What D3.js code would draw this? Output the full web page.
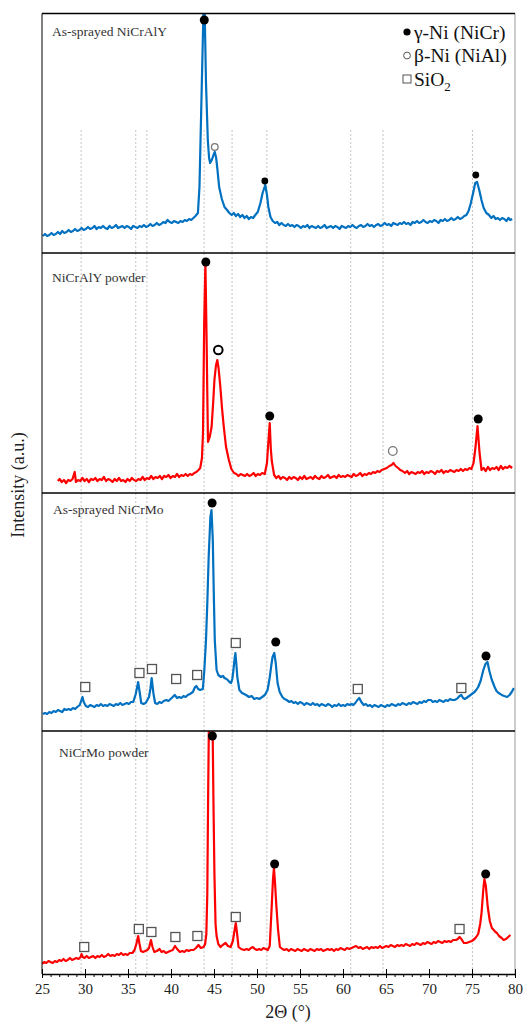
<!DOCTYPE html>
<html>
<head>
<meta charset="utf-8">
<script src="https://cdn.jsdelivr.net/npm/d3@7"></script>
<style>
  body { margin: 0; background: #fff; }
  svg text { font-family: "Liberation Serif", "Times New Roman", serif; }
</style>
</head>
<body>
<svg id="chart" width="532" height="1025"></svg>
<script>
// XRD patterns, 2-theta (deg) vs intensity (a.u.)
const sprayedNiCrAlY = [[25.1,17],[25.35,19],[25.6,17],[25.85,18],[26.1,20],[26.35,18],[26.6,19],[26.85,21],[27.1,19],[27.35,22],[27.6,20],[27.85,21],[28.1,23],[28.35,21],[28.6,22],[28.85,24],[29.1,22],[29.35,23],[29.6,25],[29.85,23],[30.1,24],[30.35,26],[30.6,24],[30.85,25],[31.1,27],[31.35,24],[31.6,26],[31.85,25],[32.1,27],[32.35,25],[32.6,24],[32.85,27],[33.1,25],[33.35,26],[33.6,28],[33.85,25],[34.1,26],[34.35,27],[34.6,25],[34.85,27],[35.1,26],[35.35,24],[35.6,27],[35.85,26],[36.1,25],[36.35,27],[36.6,26],[36.85,28],[37.1,26],[37.35,27],[37.6,29],[37.85,27],[38.1,28],[38.35,30],[38.6,28],[38.85,29],[39.1,31],[39.35,30],[39.6,33],[39.85,31],[40.1,30],[40.35,32],[40.6,31],[40.85,30],[41.1,32],[41.35,31],[41.6,33],[41.85,32],[42.1,34],[42.35,33],[42.6,35],[42.85,37],[43.13,40],[43.31,66],[43.54,153],[43.77,240],[43.92,240],[44.07,170],[44.28,113],[44.43,95],[44.55,90],[44.74,93],[44.94,98],[45.09,101],[45.25,95],[45.37,86],[45.6,66],[45.91,54],[46.22,46],[46.52,43],[46.79,40],[47.05,38],[47.3,40],[47.55,37],[47.8,39],[48.05,36],[48.3,38],[48.55,35],[48.8,37],[49.05,34],[49.3,36],[49.55,35],[49.8,38],[50.09,41],[50.4,50],[50.65,60],[50.96,68],[51.16,58],[51.32,46],[51.57,36],[51.83,32],[52.1,30],[52.35,31],[52.6,28],[52.85,30],[53.1,28],[53.35,27],[53.6,29],[53.85,27],[54.1,28],[54.35,26],[54.6,28],[54.85,27],[55.1,25],[55.35,27],[55.6,26],[55.85,28],[56.1,25],[56.35,27],[56.6,26],[56.85,25],[57.1,27],[57.35,25],[57.6,26],[57.85,28],[58.1,25],[58.35,26],[58.6,27],[58.85,25],[59.1,27],[59.35,26],[59.6,24],[59.85,27],[60.1,26],[60.35,25],[60.6,27],[60.85,26],[61.1,28],[61.35,26],[61.6,25],[61.85,27],[62.1,28],[62.35,26],[62.6,27],[62.85,29],[63.1,27],[63.35,28],[63.6,26],[63.85,28],[64.1,29],[64.35,27],[64.6,28],[64.85,30],[65.1,28],[65.35,29],[65.6,27],[65.85,30],[66.1,29],[66.35,28],[66.6,30],[66.85,29],[67.1,31],[67.35,29],[67.6,30],[67.85,28],[68.1,31],[68.35,30],[68.6,32],[68.85,30],[69.1,31],[69.35,33],[69.6,31],[69.85,30],[70.1,32],[70.35,31],[70.6,33],[70.85,32],[71.1,30],[71.35,33],[71.6,32],[71.85,34],[72.1,32],[72.35,33],[72.6,35],[72.85,33],[73.1,34],[73.35,36],[73.6,34],[73.85,35],[74.1,37],[74.35,38],[74.6,42],[74.87,50],[75.13,60],[75.38,70],[75.59,71],[75.84,63],[76.1,53],[76.36,45],[76.67,40],[76.98,38],[77.25,35],[77.5,37],[77.75,34],[78.0,35],[78.25,33],[78.5,35],[78.75,34],[79.0,32],[79.25,35],[79.45,33],[79.67,34]];

const powderNiCrAlY = [[26.84,12],[27.05,14],[27.3,11],[27.55,13],[27.8,10],[28.05,13],[28.3,12],[28.55,14],[28.8,21],[28.95,11],[29.2,13],[29.45,12],[29.7,15],[29.95,12],[30.2,14],[30.45,11],[30.7,14],[30.95,13],[31.2,15],[31.45,12],[31.7,14],[31.95,13],[32.2,16],[32.45,12],[32.7,14],[32.95,13],[33.2,11],[33.45,14],[33.7,12],[33.95,15],[34.2,12],[34.45,13],[34.7,11],[34.95,14],[35.2,12],[35.45,15],[35.7,13],[35.95,12],[36.2,14],[36.45,13],[36.7,16],[36.95,13],[37.2,15],[37.45,14],[37.7,17],[37.95,14],[38.2,16],[38.45,15],[38.7,17],[38.95,14],[39.2,17],[39.45,16],[39.7,18],[39.95,15],[40.2,17],[40.45,16],[40.7,19],[40.95,16],[41.2,18],[41.45,17],[41.7,19],[41.95,17],[42.2,19],[42.45,18],[42.7,20],[42.95,21],[43.2,23],[43.4,25],[43.6,35],[43.72,60],[43.86,170],[44.0,230],[44.14,153],[44.22,100],[44.3,51],[44.5,56],[44.72,66],[44.9,90],[45.05,113],[45.22,127],[45.38,133],[45.53,125],[45.74,106],[45.94,84],[46.14,66],[46.4,46],[46.73,33],[47.02,24],[47.33,20],[47.6,19],[47.85,17],[48.1,19],[48.35,18],[48.6,17],[48.85,19],[49.1,17],[49.35,18],[49.6,20],[49.85,17],[50.1,19],[50.35,18],[50.6,20],[50.9,19],[51.16,30],[51.28,46],[51.48,70],[51.6,45],[51.72,32],[51.99,18],[52.25,15],[52.5,17],[52.75,14],[53.0,16],[53.25,15],[53.5,13],[53.75,16],[54.0,14],[54.25,16],[54.5,15],[54.75,13],[55.0,16],[55.25,14],[55.5,17],[55.75,14],[56.0,15],[56.25,16],[56.5,14],[56.75,17],[57.0,15],[57.25,14],[57.5,17],[57.75,15],[58.0,16],[58.25,18],[58.5,15],[58.75,16],[59.0,17],[59.25,15],[59.5,18],[59.75,16],[60.0,17],[60.25,16],[60.5,18],[60.75,17],[61.0,16],[61.25,19],[61.5,17],[61.75,18],[62.0,20],[62.25,17],[62.5,19],[62.75,18],[63.0,20],[63.25,19],[63.5,21],[63.75,20],[64.0,22],[64.25,21],[64.5,23],[64.8,24],[65.09,25],[65.39,27],[65.65,28],[65.87,30],[66.11,27],[66.41,25],[66.66,23],[66.92,22],[67.2,20],[67.45,22],[67.7,19],[67.95,21],[68.2,20],[68.45,19],[68.7,21],[68.95,20],[69.2,22],[69.45,19],[69.7,21],[69.95,20],[70.2,22],[70.45,21],[70.7,19],[70.95,22],[71.2,21],[71.45,23],[71.7,20],[71.95,22],[72.2,21],[72.45,23],[72.7,22],[72.95,21],[73.2,23],[73.45,22],[73.7,24],[73.95,22],[74.2,24],[74.45,23],[74.7,25],[74.93,24],[75.18,30],[75.41,46],[75.64,67],[75.88,40],[76.11,23],[76.35,25],[76.6,22],[76.85,26],[77.1,23],[77.35,25],[77.6,24],[77.85,26],[78.1,23],[78.35,27],[78.6,24],[78.85,26],[79.1,25],[79.35,27],[79.67,25]];

const sprayedNiCrMo = [[25.1,17],[25.35,18],[25.6,17],[25.85,19],[26.1,18],[26.35,20],[26.6,19],[26.85,21],[27.1,20],[27.35,19],[27.6,22],[27.85,21],[28.1,22],[28.35,21],[28.6,23],[28.85,22],[29.1,24],[29.39,26],[29.59,31],[29.71,34],[29.85,29],[30.1,25],[30.35,24],[30.6,26],[30.85,25],[31.1,24],[31.35,26],[31.6,25],[31.85,27],[32.1,25],[32.35,26],[32.6,25],[32.85,27],[33.1,26],[33.35,25],[33.6,27],[33.85,26],[34.1,28],[34.35,26],[34.6,27],[34.85,28],[35.1,27],[35.35,29],[35.61,29],[35.9,37],[36.18,49],[36.37,38],[36.54,28],[36.8,27],[37.05,28],[37.25,31],[37.44,34],[37.6,42],[37.75,53],[37.95,38],[38.15,28],[38.4,27],[38.65,29],[38.9,28],[39.15,30],[39.45,31],[39.7,30],[39.95,32],[40.2,34],[40.43,36],[40.71,33],[40.95,34],[41.2,33],[41.45,35],[41.7,34],[41.95,36],[42.2,37],[42.54,39],[42.8,44],[42.95,45],[43.16,42],[43.39,41],[43.7,42],[43.87,60],[44.07,91],[44.23,130],[44.38,174],[44.58,214],[44.71,221],[44.86,191],[44.97,140],[45.09,91],[45.3,61],[45.5,56],[45.81,54],[46.05,55],[46.22,53],[46.45,52],[46.59,51],[46.8,49],[46.98,48],[47.13,52],[47.26,61],[47.39,72],[47.49,78],[47.59,68],[47.71,54],[47.95,41],[48.26,38],[48.5,37],[48.73,36],[49.07,34],[49.38,35],[49.68,32],[49.99,33],[50.27,32],[50.6,34],[50.91,36],[51.23,41],[51.47,53],[51.67,66],[51.81,74],[52.01,78],[52.18,68],[52.39,48],[52.64,39],[52.95,34],[53.2,32],[53.45,31],[53.76,29],[54.0,30],[54.25,28],[54.5,29],[54.75,27],[55.0,29],[55.25,28],[55.5,26],[55.75,28],[56.0,27],[56.25,26],[56.5,28],[56.75,26],[57.0,27],[57.25,25],[57.5,27],[57.75,26],[58.0,25],[58.25,27],[58.5,26],[58.75,24],[59.0,26],[59.25,25],[59.5,27],[59.75,25],[60.0,26],[60.25,25],[60.5,27],[60.75,26],[61.0,27],[61.2,26],[61.43,28],[61.67,31],[61.9,33],[62.13,29],[62.41,26],[62.65,27],[62.9,25],[63.15,26],[63.4,24],[63.65,26],[63.9,25],[64.15,24],[64.4,26],[64.65,25],[64.9,24],[65.15,26],[65.4,25],[65.65,27],[65.9,26],[66.15,25],[66.4,27],[66.65,26],[66.9,28],[67.15,27],[67.4,26],[67.65,28],[67.9,27],[68.15,29],[68.4,28],[68.65,27],[68.9,29],[69.15,28],[69.4,30],[69.65,29],[69.9,31],[70.21,31],[70.45,29],[70.7,30],[70.95,29],[71.2,31],[71.45,30],[71.7,29],[71.95,31],[72.2,30],[72.45,32],[72.7,31],[72.97,31],[73.2,32],[73.35,33],[73.55,35],[73.76,36],[73.96,33],[74.15,32],[74.35,33],[74.67,35],[74.98,37],[75.29,39],[75.49,41],[75.72,44],[76.0,50],[76.32,61],[76.56,67],[76.8,69],[77.02,60],[77.31,51],[77.63,44],[77.85,40],[78.09,38],[78.3,37],[78.45,36],[78.75,35],[79.08,34],[79.37,36],[79.62,39],[79.87,43]];

const powderNiCrMo = [[25.0,10],[25.25,12],[25.5,11],[25.75,13],[26.0,12],[26.25,11],[26.5,13],[26.75,12],[27.0,14],[27.25,13],[27.5,15],[27.75,13],[28.0,14],[28.25,16],[28.5,14],[28.75,15],[29.0,16],[29.25,15],[29.49,17],[29.59,20],[29.74,17],[29.95,16],[30.2,18],[30.45,16],[30.7,17],[30.95,18],[31.2,16],[31.45,18],[31.7,17],[31.95,19],[32.2,17],[32.45,18],[32.7,20],[32.95,18],[33.2,19],[33.45,18],[33.7,20],[33.95,19],[34.2,21],[34.45,19],[34.7,20],[34.95,19],[35.2,21],[35.51,21],[35.76,24],[35.97,30],[36.18,38],[36.34,30],[36.5,23],[36.75,22],[37.0,23],[37.25,24],[37.44,26],[37.67,34],[37.85,27],[38.06,22],[38.36,23],[38.67,25],[38.9,22],[39.15,23],[39.4,21],[39.65,22],[39.9,23],[40.2,24],[40.47,28],[40.71,25],[41.03,22],[41.3,23],[41.55,22],[41.8,24],[42.05,23],[42.3,24],[42.61,24],[42.9,26],[43.2,29],[43.46,26],[43.79,27],[43.97,30],[44.11,40],[44.22,80],[44.32,180],[44.4,246],[44.84,246],[44.94,170],[45.05,100],[45.18,50],[45.3,38],[45.5,30],[45.76,27],[46.01,29],[46.35,31],[46.62,28],[46.93,27],[47.19,33],[47.34,41],[47.53,51],[47.69,40],[47.85,27],[48.15,25],[48.52,24],[48.8,25],[49.05,24],[49.3,26],[49.51,27],[49.75,25],[50.0,24],[50.25,25],[50.5,24],[50.75,26],[51.0,25],[51.25,24],[51.48,28],[51.58,45],[51.73,71],[51.86,95],[51.97,106],[52.09,92],[52.26,67],[52.44,45],[52.66,27],[52.95,25],[53.2,24],[53.45,25],[53.7,23],[53.95,25],[54.2,24],[54.45,23],[54.7,25],[54.95,24],[55.2,23],[55.45,25],[55.7,24],[55.95,23],[56.2,25],[56.45,24],[56.7,23],[56.95,25],[57.2,24],[57.45,25],[57.7,23],[57.95,24],[58.2,25],[58.45,24],[58.7,25],[58.95,23],[59.2,25],[59.45,24],[59.7,26],[59.95,25],[60.2,24],[60.45,26],[60.75,25],[61.0,26],[61.25,27],[61.53,28],[61.8,26],[62.05,27],[62.3,25],[62.55,26],[62.8,27],[63.05,25],[63.3,27],[63.55,26],[63.8,27],[64.05,26],[64.3,28],[64.55,26],[64.8,27],[65.05,28],[65.3,27],[65.55,29],[65.8,28],[66.05,27],[66.3,29],[66.55,28],[66.8,29],[67.05,28],[67.3,30],[67.55,29],[67.8,28],[68.05,30],[68.3,29],[68.55,31],[68.8,30],[69.05,29],[69.3,31],[69.55,30],[69.8,32],[70.05,31],[70.3,30],[70.55,32],[70.8,31],[71.05,33],[71.3,32],[71.55,31],[71.8,33],[72.05,32],[72.3,33],[72.55,32],[72.8,34],[73.14,34],[73.35,35],[73.55,37],[73.76,35],[74.06,31],[74.35,31],[74.67,32],[74.98,33],[75.29,35],[75.49,37],[75.72,40],[75.95,50],[76.11,61],[76.31,84],[76.44,95],[76.61,88],[76.83,67],[77.07,53],[77.31,46],[77.53,44],[77.73,42],[77.9,41],[78.14,38],[78.45,36],[78.68,34],[78.96,35],[79.21,37],[79.47,39]];

// phase markers: [2theta, intensity, phase]  g = gamma-Ni, b = beta-Ni, s = SiO2
const marksSprayedNiCrAlY = [[43.87,233,"g"],[45.09,106,"b"],[50.91,72,"g"],[75.44,78,"g"]];
const marksPowderNiCrAlY = [[44.05,231,"g"],[45.5,143,"b"],[51.48,77,"g"],[65.79,42,"b"],[75.72,74,"g"]];
const marksSprayedNiCrMo = [[30.03,44,"s"],[36.33,58,"s"],[37.79,62,"s"],[40.6,52,"s"],[43.04,56,"s"],[44.78,228,"g"],[47.53,88,"s"],[52.18,89,"g"],[61.72,42,"s"],[73.76,43,"s"],[76.63,75,"g"]];
const marksPowderNiCrMo = [[29.91,27,"s"],[36.26,45,"s"],[37.72,42,"s"],[40.51,37,"s"],[43.07,38,"s"],[44.81,238,"g"],[47.53,57,"s"],[52.05,110,"g"],[73.55,45,"s"],[76.59,100,"g"]];

const panelNames = ["As-sprayed NiCrAlY", "NiCrAlY powder", "As-sprayed NiCrMo", "NiCrMo powder"];
const refLines = [29.55, 35.9, 37.2, 43.85, 47.1, 51.15, 60.9, 64.65, 75.05];
const xTicks = [25, 30, 35, 40, 45, 50, 55, 60, 65, 70, 75, 80];
const legendLabels = ["γ-Ni (NiCr)", "β-Ni (NiAl)", "SiO"];

// layout
const svg = d3.select("#chart");
const left = 42, right = 515;
const panelTop = [13.5, 253, 493, 731];
const panelBottom = [253, 493, 731, 974];
const labelPos = [[52, 22], [52, 29], [53, 21], [59, 26]];
const lineColors = ["#0070C0", "#FF0000", "#0070C0", "#FF0000"];
const seriesList = [sprayedNiCrAlY, powderNiCrAlY, sprayedNiCrMo, powderNiCrMo];
const marksList = [marksSprayedNiCrAlY, marksPowderNiCrAlY, marksSprayedNiCrMo, marksPowderNiCrMo];

const x = d3.scaleLinear().domain([25, 80]).range([left, right]);

seriesList.forEach((series, i) => {
  const h = panelBottom[i] - panelTop[i];
  const y = d3.scaleLinear().domain([0, h]).range([panelBottom[i], panelTop[i]]);
  const g = svg.append("g");

  // dotted reference lines (top panel: only below the legend)
  const gridTop = i === 0 ? y(123) : panelTop[i];
  g.selectAll("line.ref")
    .data(refLines)
    .join("line")
    .attr("x1", d => x(d)).attr("x2", d => x(d))
    .attr("y1", gridTop).attr("y2", panelBottom[i])
    .attr("stroke", "#c4c4c4")
    .attr("stroke-width", 1)
    .attr("stroke-dasharray", "2,2");

  svg.append("clipPath").attr("id", "clip" + i)
    .append("rect")
    .attr("x", left).attr("y", panelTop[i])
    .attr("width", right - left).attr("height", h);

  const line = d3.line().x(d => x(d[0])).y(d => y(d[1]));
  g.append("path")
    .datum(series)
    .attr("clip-path", `url(#clip${i})`)
    .attr("d", line)
    .attr("fill", "none")
    .attr("stroke", lineColors[i])
    .attr("stroke-width", 2.2)
    .attr("stroke-linejoin", "round");

  g.append("text")
    .attr("x", labelPos[i][0])
    .attr("y", panelTop[i] + labelPos[i][1])
    .attr("font-size", 13.5)
    .attr("fill", "#333")
    .text(panelNames[i]);

  // phase markers
  marksList[i].forEach(m => {
    const cx = x(m[0]), cy = y(m[1]);
    if (m[2] === "g") {
      g.append("circle").attr("cx", cx).attr("cy", cy)
        .attr("r", i === 0 && m[1] < 200 ? 3.4 : 4.5)
        .attr("fill", "#000");
    } else if (m[2] === "b") {
      const strong = i === 1 && m[1] > 100;
      g.append("circle").attr("cx", cx).attr("cy", cy)
        .attr("r", i === 0 ? 3.3 : 4.3)
        .attr("fill", "#fff")
        .attr("stroke", strong ? "#000" : "#777")
        .attr("stroke-width", strong ? 2 : 1.3);
    } else {
      g.append("rect").attr("x", cx - 4.5).attr("y", cy - 4.5)
        .attr("width", 9).attr("height", 9)
        .attr("fill", "#fff")
        .attr("stroke", "#555")
        .attr("stroke-width", 1.3);
    }
  });
});

// frames
svg.append("line").attr("x1", left).attr("x2", left)
  .attr("y1", panelTop[0]).attr("y2", panelBottom[3])
  .attr("stroke", "#000").attr("stroke-width", 1);
svg.append("line").attr("x1", right).attr("x2", right)
  .attr("y1", panelTop[0]).attr("y2", panelBottom[3])
  .attr("stroke", "#9a9a9a").attr("stroke-width", 1);
svg.selectAll("line.sep")
  .data(panelTop)
  .join("line")
  .attr("x1", left).attr("x2", right)
  .attr("y1", d => d).attr("y2", d => d)
  .attr("stroke", "#000").attr("stroke-width", 1.3);

// x axis
const axisY = panelBottom[3];
const minor = d3.range(25, 81).filter(v => v % 5 !== 0);
svg.append("g")
  .attr("transform", `translate(0,${axisY})`)
  .call(d3.axisBottom(x).tickValues(minor).tickSize(3).tickFormat(""))
  .call(a => a.select(".domain").remove());
const ax = svg.append("g")
  .attr("transform", `translate(0,${axisY})`)
  .call(d3.axisBottom(x).tickValues(xTicks).tickSizeInner(4).tickSizeOuter(0).tickPadding(5));
ax.select(".domain").attr("stroke", "#000").attr("stroke-width", 1.3);
ax.selectAll(".tick line").attr("y1", -5);
ax.selectAll(".tick text")
  .attr("font-size", 15)
  .attr("fill", "#222");

svg.append("text")
  .attr("x", 288)
  .attr("y", 1018)
  .attr("text-anchor", "middle")
  .attr("font-size", 18)
  .attr("fill", "#222")
  .text("2Θ (°)");

svg.append("text")
  .attr("transform", `translate(24,485) rotate(-90)`)
  .attr("text-anchor", "middle")
  .attr("font-size", 18)
  .attr("fill", "#222")
  .text("Intensity (a.u.)");

// legend
const lg = svg.append("g").attr("transform", "translate(407,32)");
legendLabels.forEach((label, k) => {
  const row = lg.append("g").attr("transform", `translate(0,${k * 23.5})`);
  if (k === 0) {
    row.append("circle").attr("r", 3.6).attr("fill", "#000");
  } else if (k === 1) {
    row.append("circle").attr("r", 3.4).attr("fill", "#fff").attr("stroke", "#555").attr("stroke-width", 1);
  } else {
    row.append("rect").attr("x", -4).attr("y", -4).attr("width", 8).attr("height", 8)
      .attr("fill", "#fff").attr("stroke", "#555").attr("stroke-width", 1);
  }
  const t = row.append("text").attr("x", 7).attr("y", 6.5)
    .attr("font-size", 19.5).attr("fill", "#111").text(label);
  if (k === 2) t.append("tspan").attr("dy", 5).attr("font-size", 13).text("2");
});
</script>
</body>
</html>
